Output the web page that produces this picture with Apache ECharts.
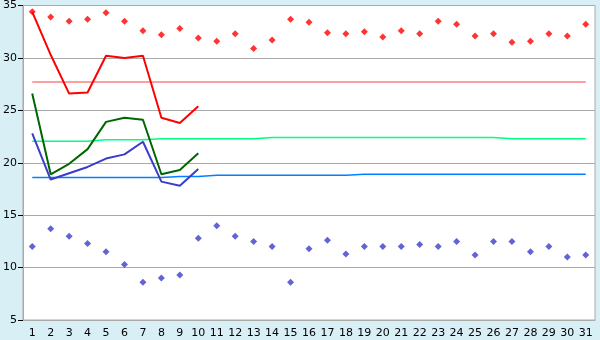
<!DOCTYPE html>
<html>
<head>
<meta charset="utf-8">
<script src="https://cdn.jsdelivr.net/npm/echarts@6/dist/echarts.min.js"></script>
<style>
html,body{margin:0;padding:0;background:#d9eff6;}
#c{width:600px;height:340px;}
</style>
</head>
<body>
<div id="c"></div>
<script>
var days = ['1','2','3','4','5','6','7','8','9','10','11','12','13','14','15','16','17','18','19','20','21','22','23','24','25','26','27','28','29','30','31'];
var yTicks = [5, 35, 5]; // min, max, interval
var maxTemp = [34.4,33.9,33.5,33.7,34.3,33.5,32.6,32.2,32.8,31.9,31.6,32.3,30.9,31.7,33.7,33.4,32.4,32.3,32.5,32.0,32.6,32.3,33.5,33.2,32.1,32.3,31.5,31.6,32.3,32.1,33.2];
var minTemp = [12.0,13.7,13.0,12.3,11.5,10.3,8.6,9.0,9.3,12.8,14.0,13.0,12.5,12.0,8.6,11.8,12.6,11.3,12.0,12.0,12.0,12.2,12.0,12.5,11.2,12.5,12.5,11.5,12.0,11.0,11.2];
var highLine = [34.4,30.3,26.6,26.7,30.2,30.0,30.2,24.3,23.8,25.4];
var meanLine = [26.6,18.9,19.9,21.3,23.9,24.3,24.1,18.9,19.3,20.9];
var lowLine = [22.8,18.4,19.0,19.6,20.4,20.8,22.0,18.2,17.8,19.4];
var normHigh = [27.7,27.7,27.7,27.7,27.7,27.7,27.7,27.7,27.7,27.7,27.7,27.7,27.7,27.7,27.7,27.7,27.7,27.7,27.7,27.7,27.7,27.7,27.7,27.7,27.7,27.7,27.7,27.7,27.7,27.7,27.7];
var normMean = [22.05,22.05,22.05,22.05,22.2,22.2,22.2,22.3,22.3,22.3,22.3,22.3,22.3,22.4,22.4,22.4,22.4,22.4,22.4,22.4,22.4,22.4,22.4,22.4,22.4,22.4,22.3,22.3,22.3,22.3,22.3];
var normLow = [18.6,18.6,18.6,18.6,18.6,18.6,18.6,18.6,18.7,18.7,18.8,18.8,18.8,18.8,18.8,18.8,18.8,18.8,18.9,18.9,18.9,18.9,18.9,18.9,18.9,18.9,18.9,18.9,18.9,18.9,18.9];

var chart = echarts.init(document.getElementById('c'));
var gray = '#aaaaaa';
var font = {fontFamily: 'DejaVu Sans', fontSize: 11, color: '#000'};
function lineS(data, color, width, z) {
  return {type: 'line', data: data, showSymbol: false, symbol: 'none', animation: false, z: z,
    lineStyle: {color: color, width: width}, itemStyle: {color: color}};
}
function scat(data, color) {
  return {type: 'scatter', data: data, symbol: 'diamond', symbolSize: 7, animation: false, z: 10,
    itemStyle: {color: color}};
}
chart.setOption({
  backgroundColor: '#d9eff6',
  animation: false,
  grid: {left: 20, right: 5, top: 5, bottom: 20, show: true, backgroundColor: '#ffffff', borderColor: gray, borderWidth: 1},
  xAxis: {
    type: 'category', data: days, boundaryGap: true,
    axisLine: {lineStyle: {color: gray, width: 1}},
    axisTick: {alignWithLabel: true, length: 5, lineStyle: {color: '#000'}},
    axisLabel: Object.assign({margin: 8, interval: 0}, font),
    splitLine: {show: false}
  },
  yAxis: {
    type: 'value', min: yTicks[0], max: yTicks[1], interval: yTicks[2],
    axisLine: {show: true, lineStyle: {color: gray, width: 1}},
    axisTick: {show: true, length: 5, lineStyle: {color: '#000'}},
    axisLabel: Object.assign({margin: 6}, font),
    splitLine: {show: true, lineStyle: {color: gray, width: 1}}
  },
  series: [
    lineS(normHigh, '#ff8080', 1.5, 2),
    lineS(normMean, '#00ff80', 1.5, 2),
    lineS(normLow, '#0080ff', 1.5, 2),
    lineS(highLine, '#ff0000', 2, 3),
    lineS(meanLine, '#006600', 2, 3),
    lineS(lowLine, '#3c3ccc', 2, 3),
    scat(maxTemp, '#ff0000'),
    scat(minTemp, '#3c3ccc')
  ]
});
</script>
</body>
</html>
